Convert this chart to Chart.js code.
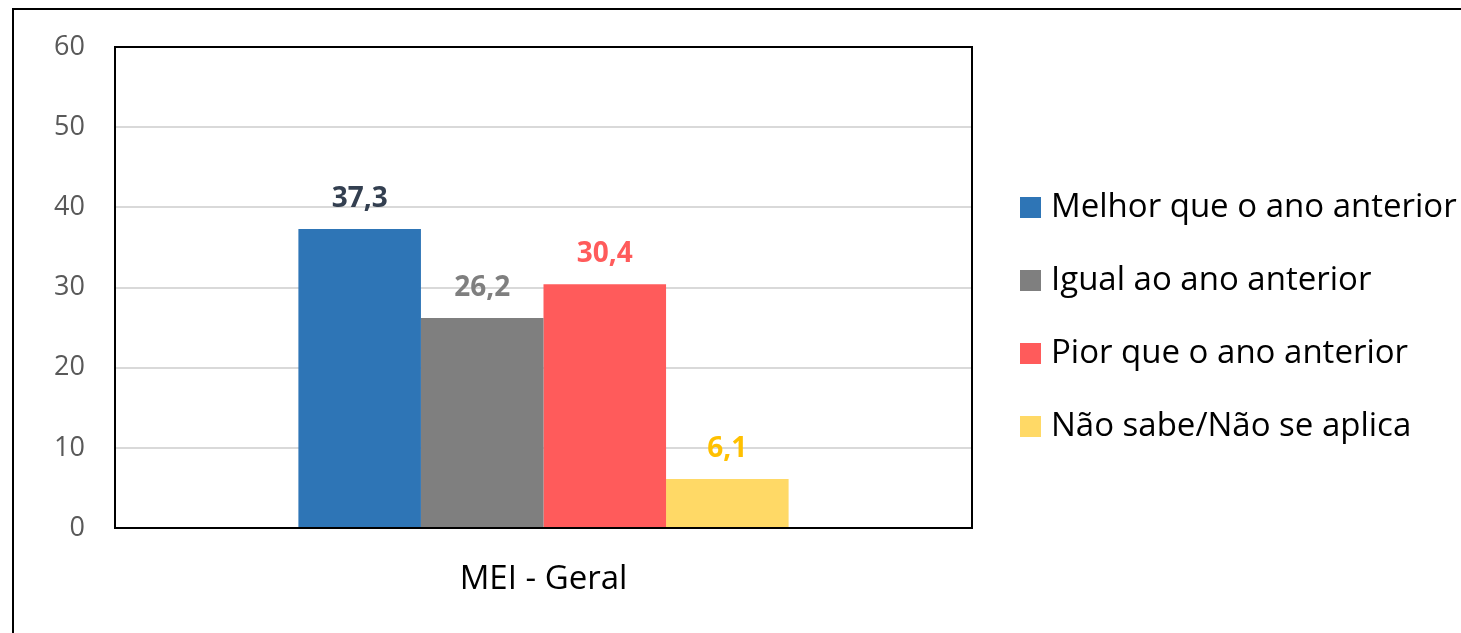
<!DOCTYPE html>
<html lang="pt">
<head>
<meta charset="UTF-8">
<title>MEI - Geral</title>
<script src="https://cdn.jsdelivr.net/npm/chart.js@4.4.1/dist/chart.umd.min.js"></script>
<style>
html,body{margin:0;padding:0;background:#fff;overflow:hidden}
#frame{position:absolute;left:12px;top:8px;width:3000px;height:3000px;border-left:2px solid #000;border-top:2px solid #000}
#wrap{position:absolute;left:0;top:0;width:1461px;height:633px}
</style>
</head>
<body>
<div id="frame"></div>
<div id="wrap"><canvas id="chart"></canvas></div>
<script>
// dados
var categorias = ["MEI - Geral"];
var series = ["Melhor que o ano anterior", "Igual ao ano anterior", "Pior que o ano anterior", "Não sabe/Não se aplica"];
var valores = [37.3, 26.2, 30.4, 6.1];
var yTicks = [0, 10, 20, 30, 40, 50, 60];

var corBarra = ["#2e75b6", "#7f7f7f", "#ff5b5b", "#ffd966"];
var corRotulo = ["#333f50", "#7f7f7f", "#ff5b5b", "#ffc000"];
var fonte = "'Open Sans', sans-serif";

var datasets = [];
for (var i = 0; i < series.length; i++) {
  datasets.push({
    label: series[i],
    data: [valores[i]],
    backgroundColor: corBarra[i],
    borderWidth: 0,
    barPercentage: 1,
    categoryPercentage: 0.572
  });
}

// rotulos de dados + moldura da area de plotagem + legenda
var extras = {
  id: "extras",
  afterDatasetsDraw: function(chart) {
    var ctx = chart.ctx, a = chart.chartArea;
    ctx.save();
    ctx.font = "bold 28px " + fonte;
    ctx.textAlign = "center";
    ctx.textBaseline = "alphabetic";
    chart.data.datasets.forEach(function(ds, i) {
      var bar = chart.getDatasetMeta(i).data[0];
      ctx.fillStyle = corRotulo[i];
      ctx.fillText(ds.data[0].toFixed(1).replace(".", ","), bar.x, bar.y - 22);
    });
    ctx.strokeStyle = "#000";
    ctx.lineWidth = 2;
    ctx.strokeRect(a.left, a.top, a.right - a.left, a.bottom - a.top);
    ctx.restore();
  },
  afterDraw: function(chart) {
    var ctx = chart.ctx, a = chart.chartArea;
    var x = a.right + 48, mid = (a.top + a.bottom) / 2 + 29.5, passo = 73;
    ctx.save();
    ctx.font = "33px " + fonte;
    ctx.textBaseline = "middle";
    ctx.textAlign = "left";
    chart.data.datasets.forEach(function(ds, i) {
      var y = mid + (i - 1.5) * passo;
      ctx.fillStyle = ds.backgroundColor;
      ctx.fillRect(x, y - 10.5, 21, 21);
      ctx.fillStyle = "#000";
      ctx.fillText(ds.label, x + 31, y);
    });
    ctx.restore();
  }
};

new Chart("chart", {
  type: "bar",
  data: { labels: categorias, datasets: datasets },
  options: {
    responsive: true,
    maintainAspectRatio: false,
    animation: false,
    layout: { padding: { top: 47, left: 15, right: 489, bottom: 0 } },
    plugins: { legend: { display: false }, tooltip: { enabled: false } },
    scales: {
      x: {
        grid: { display: false },
        border: { color: "#000", width: 2 },
        ticks: { color: "#000", font: { family: fonte, size: 33 }, padding: 24 },
        afterFit: function(s) { s.height = 105; }
      },
      y: {
        min: yTicks[0],
        max: yTicks[yTicks.length - 1],
        afterBuildTicks: function(s) { s.ticks = yTicks.map(function(v) { return { value: v }; }); },
        grid: { color: "#d9d9d9", lineWidth: 2, drawTicks: false },
        border: { color: "#000", width: 2 },
        ticks: { color: "#595959", font: { family: fonte, size: 27 }, padding: 30 },
        afterFit: function(s) { s.width = 100; }
      }
    }
  },
  plugins: [extras]
});
</script>
</body>
</html>
